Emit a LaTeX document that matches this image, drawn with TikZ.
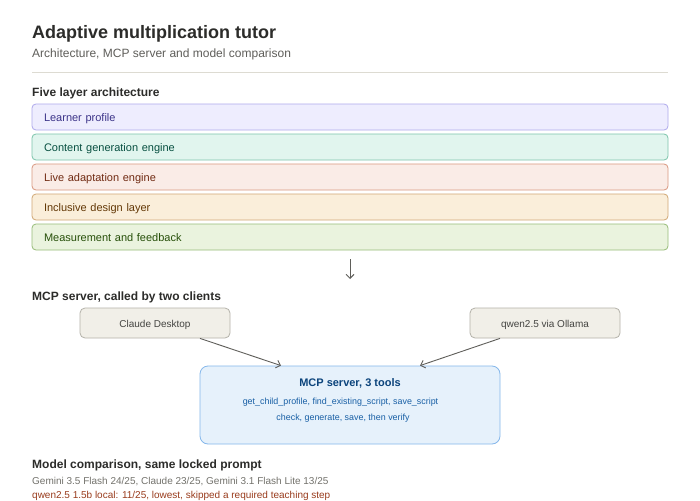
\documentclass[tikz,border=0pt]{standalone}
\usepackage{fontspec}
\setmainfont{Liberation Sans}
\usepackage{xcolor}
\usetikzlibrary{positioning,arrows.meta,calc}

\definecolor{titletext}{HTML}{2C2C2A}
\definecolor{subtext}{HTML}{5F5E5A}
\definecolor{scoretext}{HTML}{73726C}
\definecolor{rulegray}{HTML}{DDDBD2}
\definecolor{arrowgray}{HTML}{5F5E5A}
\definecolor{purplefill}{HTML}{EEEDFE}
\definecolor{purpledraw}{HTML}{AFA9EC}
\definecolor{purpletext}{HTML}{3C3489}
\definecolor{tealfill}{HTML}{E1F5EE}
\definecolor{tealdraw}{HTML}{7CC4AA}
\definecolor{tealtext}{HTML}{085041}
\definecolor{coralfill}{HTML}{FAECE7}
\definecolor{coraldraw}{HTML}{D9977F}
\definecolor{coraltext}{HTML}{712B13}
\definecolor{amberfill}{HTML}{FAEEDA}
\definecolor{amberdraw}{HTML}{D0A774}
\definecolor{ambertext}{HTML}{633806}
\definecolor{greenfill}{HTML}{EAF3DE}
\definecolor{greendraw}{HTML}{97BC78}
\definecolor{greentext}{HTML}{27500A}
\definecolor{clientfill}{HTML}{F1EFE8}
\definecolor{clientdraw}{HTML}{B4B2A9}
\definecolor{clienttext}{HTML}{444441}
\definecolor{bluefill}{HTML}{E6F1FB}
\definecolor{bluedraw}{HTML}{85B7EB}
\definecolor{bluetitle}{HTML}{0C447C}
\definecolor{bluetext}{HTML}{185FA5}
\definecolor{redtext}{HTML}{993C1D}

\begin{document}
\begin{tikzpicture}[x=1pt, y=-1pt,
  layer/.style={rectangle, rounded corners=4pt, draw, line width=0.8pt, minimum width=636pt, minimum height=26pt, text width=612pt, text height=9pt, text depth=0pt, inner xsep=12pt, inner ysep=0pt, align=left, font=\fontsize{11}{13}\selectfont},
  client/.style={rectangle, rounded corners=5pt, draw=clientdraw, fill=clientfill, line width=0.8pt, minimum width=150pt, minimum height=30pt, text height=9pt, text depth=0pt, inner ysep=0pt, font=\fontsize{10}{12}\selectfont, text=clienttext},
  heading/.style={anchor=base west, inner sep=0pt, font=\fontsize{12}{14}\selectfont\bfseries, text=titletext},
  plain/.style={anchor=base west, inner sep=0pt, font=\fontsize{10}{12}\selectfont},
  link/.style={-{Straight Barb[length=4pt, width=8pt]}, draw=arrowgray, line width=0.9pt}
]
\useasboundingbox[fill=white] (0,0) rectangle (700,500);

% Title
\node[anchor=base west, inner sep=0pt, font=\fontsize{18}{22}\selectfont\bfseries, text=titletext] (title) at (32,38.5) {Adaptive multiplication tutor};
\node[anchor=base west, inner sep=0pt, font=\fontsize{12}{14}\selectfont, text=subtext] (subtitle) at (32,57.5) {Architecture, MCP server and model comparison};
\draw[rulegray, line width=0.8pt] (32,72.5) -- (668,72.5);

% Layers
\node[heading] (layerhead) at (32,96.5) {Five layer architecture};
\node[layer, fill=purplefill, draw=purpledraw, text=purpletext] (profile) at (350,117) {Learner profile};
\node[layer, fill=tealfill, draw=tealdraw, text=tealtext] (content) at (350,147) {Content generation engine};
\node[layer, fill=coralfill, draw=coraldraw, text=coraltext] (adapt) at (350,177) {Live adaptation engine};
\node[layer, fill=amberfill, draw=amberdraw, text=ambertext] (inclusive) at (350,207) {Inclusive design layer};
\node[layer, fill=greenfill, draw=greendraw, text=greentext] (measure) at (350,237) {Measurement and feedback};

\coordinate (down) at (350,279);
\draw[link] ($(measure.south)+(0,9)$) -- (down);

% MCP server
\node[heading] (mcphead) at (32,300) {MCP server, called by two clients};
\node[client] (claude) at (155,323) {Claude Desktop};
\node[client] (qwen) at (545,323) {qwen2.5 via Ollama};
\node[rectangle, rounded corners=8pt, draw=bluedraw, fill=bluefill, line width=0.8pt, minimum width=300pt, minimum height=78pt] (mcp) at (350,405) {};
\node[anchor=base, inner sep=0pt, font=\fontsize{11}{13}\selectfont\bfseries, text=bluetitle] (mcptitle) at (350,386) {MCP server, 3 tools};
\node[anchor=base, inner sep=0pt, font=\fontsize{8.9}{10}\selectfont, text=bluetext] (tools) at (340.5,404) {get\_child\_profile, find\_existing\_script, save\_script};
\node[anchor=base, inner sep=0pt, font=\fontsize{8.9}{10}\selectfont, text=bluetext] (steps) at (343,420) {check, generate, save, then verify};

\draw[link] ($(claude.south)+(45,0)$) -- ($(mcp.north)+(-69,0)$);
\draw[link] ($(qwen.south)+(-45,0)$) -- ($(mcp.north)+(70,0)$);

% Model comparison
\node[heading] (comphead) at (32,468) {Model comparison, same locked prompt};
\node[plain, text=scoretext] (scores) at (32,484) {Gemini 3.5 Flash 24/25, Claude 23/25, Gemini 3.1 Flash Lite 13/25};
\node[plain, text=redtext] (lowest) at (32,498) {qwen2.5 1.5b local: 11/25, lowest, skipped a required teaching step};

\end{tikzpicture}
\end{document}
